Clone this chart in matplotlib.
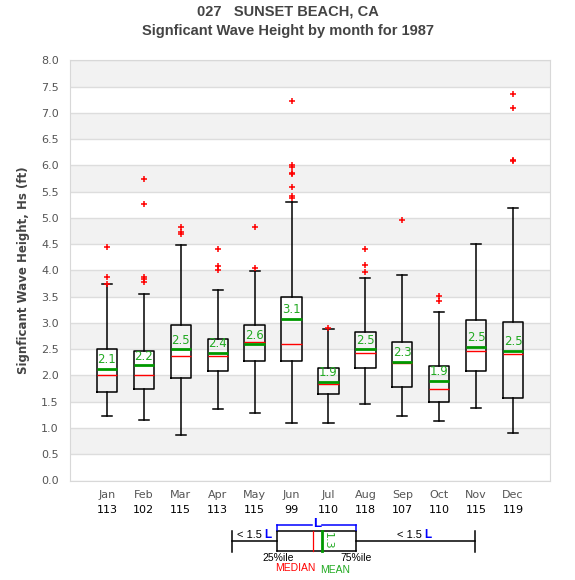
import matplotlib.pyplot as plt
from matplotlib.lines import Line2D

months = ['Jan', 'Feb', 'Mar', 'Apr', 'May', 'Jun', 'Jul', 'Aug', 'Sep', 'Oct', 'Nov', 'Dec']
counts = [113, 102, 115, 113, 115, 99, 110, 118, 107, 110, 115, 119]

whislo = [1.22, 1.15, 0.86, 1.37, 1.28, 1.09, 1.09, 1.45, 1.22, 1.13, 1.38, 0.90]
q1 = [1.68, 1.74, 1.95, 2.08, 2.27, 2.27, 1.64, 2.14, 1.78, 1.49, 2.08, 1.58]
med = [2.00, 2.00, 2.37, 2.37, 2.63, 2.60, 1.83, 2.42, 2.23, 1.74, 2.46, 2.40]
mean = [2.13, 2.19, 2.50, 2.43, 2.59, 3.08, 1.88, 2.50, 2.26, 1.90, 2.55, 2.47]
q3 = [2.50, 2.46, 2.96, 2.69, 2.96, 3.49, 2.14, 2.82, 2.63, 2.18, 3.05, 3.01]
whishi = [3.74, 3.55, 4.48, 3.63, 3.98, 5.30, 2.88, 3.85, 3.91, 3.20, 4.50, 5.18]
fliers = [
    [4.44, 3.87, 3.74],
    [5.74, 5.26, 3.87, 3.84, 3.78],
    [4.82, 4.73, 4.69],
    [4.40, 4.09, 4.00],
    [4.82, 4.04],
    [7.22, 6.01, 5.97, 5.86, 5.84, 5.58, 5.42, 5.38],
    [2.90],
    [4.40, 4.10, 3.97],
    [4.96],
    [3.51, 3.41],
    [],
    [7.36, 7.09, 6.10, 6.09],
]

stats = []
for i in range(12):
    stats.append(dict(whislo=whislo[i], q1=q1[i], med=med[i], mean=mean[i],
                      q3=q3[i], whishi=whishi[i], fliers=fliers[i]))

fig = plt.figure(figsize=(5.75, 5.8), dpi=100)
ax = fig.add_axes([70 / 575, 1 - 480.5 / 580, 480 / 575, 420.2 / 580])

# alternating bands
for y0 in [0.5, 1.5, 2.5, 3.5, 4.5, 5.5, 6.5, 7.5]:
    ax.axhspan(y0, y0 + 0.5, color='#f2f2f2', zorder=0, lw=0)

pos = list(range(1, 13))
ax.bxp(stats, positions=pos, widths=0.55, showmeans=True, meanline=True,
       boxprops=dict(color='black', lw=1.1),
       whiskerprops=dict(color='black', lw=1.1),
       capprops=dict(color='black', lw=1.1),
       medianprops=dict(color='red', lw=1.0),
       meanprops=dict(color='#009900', lw=2.0, linestyle='-'),
       flierprops=dict(marker='+', markeredgecolor='red', markersize=4.5, markeredgewidth=1.1),
       zorder=3)

for p, m in zip(pos, mean):
    ax.text(p, m + 0.05, f'{m:.1f}', ha='center', va='bottom', color='#22aa22', fontsize=8.5, zorder=4)

ax.set_xlim(0, 13)
ax.set_ylim(0, 8)
ax.set_yticks([i * 0.5 for i in range(17)])
ax.set_yticklabels([f'{i * 0.5:.1f}' for i in range(17)], fontsize=8, color='#555555')
ax.yaxis.grid(True, color='#dddddd', lw=1)
ax.set_axisbelow(True)
ax.tick_params(axis='y', length=0, pad=8)
ax.set_xticks(pos)
ax.set_xticklabels([])
ax.tick_params(axis='x', length=0)
for s in ax.spines.values():
    s.set_color('#d8d8d8')

for p, mname, c in zip(pos, months, counts):
    ax.text(p, -0.19, mname, ha='center', va='top', fontsize=8, color='#555555', clip_on=False)
    ax.text(p, -0.47, str(c), ha='center', va='top', fontsize=8, color='#000000', clip_on=False)

ax.set_ylabel('Signficant Wave Height, Hs (ft)', fontsize=8.5, fontweight='bold', color='#444444', labelpad=8)

fig.text(0.5, 1 - 11.5 / 580, '027   SUNSET BEACH, CA', ha='center', va='center',
         fontsize=10.5, fontweight='bold', color='#444444', family='Liberation Sans')
fig.text(0.5, 1 - 31 / 580, 'Signficant Wave Height by month for 1987', ha='center', va='center',
         fontsize=10.5, fontweight='bold', color='#444444', family='Liberation Sans')


# legend drawn in pixel coordinates
def fx(x):
    return x / 575


def fy(y):
    return 1 - y / 580


def seg(x0, y0, x1, y1, color='black', lw=1.1):
    fig.add_artist(Line2D([fx(x0), fx(x1)], [fy(y0), fy(y1)], color=color, lw=lw))


seg(232, 541, 277, 541)
seg(356, 541, 475, 541)
seg(232, 531, 232, 552)
seg(475, 531, 475, 552)
seg(277, 531, 356, 531)
seg(277, 551, 356, 551)
seg(277, 531, 277, 551)
seg(356, 531, 356, 551)
seg(313, 531, 313, 551, color='red', lw=0.9)
seg(321.5, 531, 321.5, 551, color='#009900', lw=2.0)
seg(277, 525, 311.5, 525, color='blue', lw=1.1)
seg(322, 525, 356, 525, color='blue', lw=1.1)
seg(277, 525, 277, 530, color='blue', lw=1.1)
seg(356, 525, 356, 530, color='blue', lw=1.1)
lf = 'Liberation Sans'
fig.text(fx(317), fy(524), 'L', ha='center', va='center', color='blue', fontsize=9.5, fontweight='bold', family=lf)
fig.text(fx(328), fy(541), '1.3', ha='center', va='center', color='#22aa22', fontsize=8, rotation=-90)
fig.text(fx(262), fy(535), '< 1.5', ha='right', va='center', color='black', fontsize=8, family=lf)
fig.text(fx(264), fy(535), 'L', ha='left', va='center', color='blue', fontsize=8.5, fontweight='bold', family=lf)
fig.text(fx(422), fy(535), '< 1.5', ha='right', va='center', color='black', fontsize=8, family=lf)
fig.text(fx(424), fy(535), 'L', ha='left', va='center', color='blue', fontsize=8.5, fontweight='bold', family=lf)
fig.text(fx(278), fy(558), '25%ile', ha='center', va='center', color='black', fontsize=7.5, family=lf)
fig.text(fx(356), fy(558), '75%ile', ha='center', va='center', color='black', fontsize=7.5, family=lf)
fig.text(fx(295), fy(568), 'MEDIAN', ha='center', va='center', color='red', fontsize=7.5, family=lf)
fig.text(fx(335), fy(570), 'MEAN', ha='center', va='center', color='#22aa22', fontsize=7.5, family=lf)

fig.savefig('out.png', dpi=100)
